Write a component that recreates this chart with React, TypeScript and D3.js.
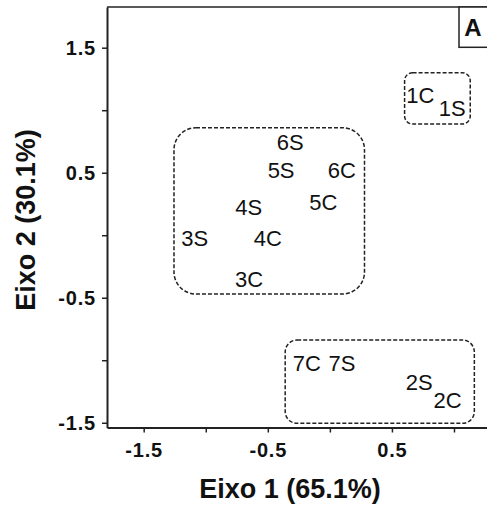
import { useEffect, useRef } from "react";
import * as d3 from "d3";

// sample labels and their scores on the two axes
const labels = ["1C", "1S", "6S", "5S", "6C", "4S", "5C", "3S", "4C", "3C", "7C", "7S", "2S", "2C"];
const axis1 = [0.728, 0.986, -0.32, -0.393, 0.097, -0.653, -0.052, -1.089, -0.5, -0.651, -0.185, 0.097, 0.72, 0.948];
const axis2 = [1.122, 1.018, 0.748, 0.522, 0.522, 0.228, 0.268, -0.025, -0.025, -0.353, -1.025, -1.025, -1.172, -1.318];

// grouping boxes, in axis units
const groupX0 = [0.602, -1.256, -0.36];
const groupX1 = [1.131, 0.279, 1.164];
const groupYTop = [1.3, 0.86, -0.838];
const groupYBottom = [0.89, -0.47, -1.505];
const groupRadius = [8, 22, 12];

const xTicks = [-1.5, -1, -0.5, 0, 0.5, 1];
const yTicks = [-1.5, -1, -0.5, 0, 0.5, 1, 1.5];
const shownTicks = ["-1.5", "-0.5", "0.5", "1.5"];

const xTitle = "Eixo 1 (65.1%)";
const yTitle = "Eixo 2 (30.1%)";
const panelLetter = "A";

const fmt = (v: number) => {
  const s = v.toFixed(1);
  return shownTicks.includes(s) ? s : "";
};

export const PcaChart = (props: IPcaChartProps) => {
  const chartRef = useRef<HTMLDivElement>(null);
  const { width, height } = props;

  useEffect(() => {
    d3.select(chartRef.current).select("svg").remove();

    const left = 107;
    const top = 7;
    const right = 487;
    const bottom = 427.5;

    const svg = d3
      .select(chartRef.current)
      .append("svg")
      .attr("width", width)
      .attr("height", height)
      .style("display", "block")
      .style("font-family", "'Liberation Sans', Arial, sans-serif");

    const x = d3.scaleLinear().domain([-1.7957, 1.266]).range([left, right]);
    const y = d3.scaleLinear().domain([1.8256, -1.538]).range([top, bottom]);

    // top frame line
    svg
      .append("line")
      .attr("x1", left)
      .attr("x2", right)
      .attr("y1", top)
      .attr("y2", top)
      .attr("stroke", "#222")
      .attr("stroke-width", 1.5);

    const xAxis = svg
      .append("g")
      .attr("transform", `translate(0, ${bottom})`)
      .call(
        d3.axisBottom(x).tickValues(xTicks).tickFormat((d) => fmt(d as number)).tickSize(5).tickSizeOuter(0).tickPadding(10)
      );

    const yAxis = svg
      .append("g")
      .attr("transform", `translate(${left}, 0)`)
      .call(
        d3.axisLeft(y).tickValues(yTicks).tickFormat((d) => fmt(d as number)).tickSize(5).tickSizeOuter(0).tickPadding(6)
      );

    [xAxis, yAxis].forEach((g) => {
      g.select(".domain").attr("stroke", "#222").attr("stroke-width", 2);
      g.selectAll(".tick line").attr("stroke", "#222").attr("stroke-width", 1.5);
      g.selectAll(".tick text")
        .attr("fill", "#111")
        .style("font-size", "20px")
        .style("font-weight", "bold")
        .style("letter-spacing", "0.8px")
        .style("font-family", "'Liberation Sans', Arial, sans-serif");
    });

    // dashed group boxes
    svg
      .selectAll(".group")
      .data(groupX0)
      .enter()
      .append("rect")
      .attr("class", "group")
      .attr("x", (d) => x(d))
      .attr("y", (_, i) => y(groupYTop[i]))
      .attr("width", (d, i) => x(groupX1[i]) - x(d))
      .attr("height", (_, i) => y(groupYBottom[i]) - y(groupYTop[i]))
      .attr("rx", (_, i) => groupRadius[i])
      .attr("fill", "none")
      .attr("stroke", "#222")
      .attr("stroke-width", 1.5)
      .attr("stroke-dasharray", "4,2");

    // sample labels
    svg
      .selectAll(".pt")
      .data(labels)
      .enter()
      .append("text")
      .attr("class", "pt")
      .attr("x", (_, i) => x(axis1[i]))
      .attr("y", (_, i) => y(axis2[i]))
      .attr("dy", "0.36em")
      .attr("text-anchor", "middle")
      .attr("fill", "#111")
      .style("font-size", "22px")
      .text((d) => d);

    // panel letter box
    svg
      .append("rect")
      .attr("x", 459)
      .attr("y", top)
      .attr("width", 40)
      .attr("height", 40.3)
      .attr("fill", "white")
      .attr("stroke", "#222")
      .attr("stroke-width", 1.5);
    svg
      .append("text")
      .attr("x", 473)
      .attr("y", 36)
      .attr("text-anchor", "middle")
      .attr("fill", "#111")
      .style("font-size", "24px")
      .style("font-weight", "bold")
      .text(panelLetter);

    svg
      .append("text")
      .attr("x", 290)
      .attr("y", 498)
      .attr("text-anchor", "middle")
      .attr("fill", "#111")
      .style("font-size", "27px")
      .style("font-weight", "bold")
      .text(xTitle);

    svg
      .append("text")
      .attr("transform", `translate(35, 220) rotate(-90)`)
      .attr("text-anchor", "middle")
      .attr("fill", "#111")
      .style("font-size", "27px")
      .style("font-weight", "bold")
      .text(yTitle);
  }, [width, height]);

  return <div ref={chartRef} style={{ position: "absolute", left: 0, top: 0 }} />;
};

interface IPcaChartProps {
  width: number;
  height: number;
}

export default function App() {
  return <PcaChart width={487} height={508} />;
}
